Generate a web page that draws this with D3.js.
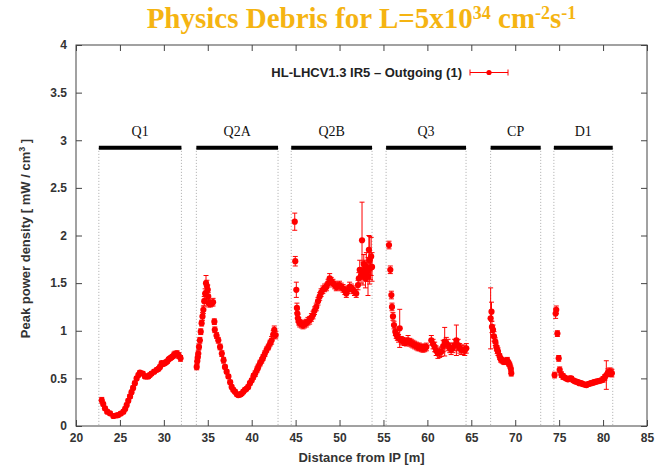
<!DOCTYPE html>
<html>
<head>
<meta charset="utf-8">
<script src="https://cdn.jsdelivr.net/npm/d3@7"></script>
<style>
  body { margin: 0; background: #fff; }
  svg { display: block; }
  .tick text { font-family: 'Liberation Sans', Arial, sans-serif; font-weight: bold; font-size: 12px; fill: #333; }
</style>
</head>
<body>
<div id="chart"></div>
<script>
// tick labels
const xTickValues = [20, 25, 30, 35, 40, 45, 50, 55, 60, 65, 70, 75, 80, 85];
const yTickValues = [0, 0.5, 1, 1.5, 2, 2.5, 3, 3.5, 4];

// magnets: name, start / end [m]
const magnetNames = ['Q1', 'Q2A', 'Q2B', 'Q3', 'CP', 'D1'];
const magnetStart = [22.6, 33.7, 44.5, 55.3, 67.2, 74.4];
const magnetEnd = [32.0, 43.0, 53.7, 64.4, 72.9, 81.1];
const magnetLevel = 2.92;

// [distance m, peak power density mW/cm3, error]
const q1Points = [
  [22.93, 0.27, 0.03], [23.10, 0.23, 0.02], [23.30, 0.186, 0.02], [23.55, 0.15, 0.02],
  [23.87, 0.133, 0.02], [24.25, 0.105, 0.02], [24.55, 0.11, 0.02], [24.80, 0.115, 0.02],
  [25.10, 0.13, 0.02], [25.40, 0.15, 0.02], [25.60, 0.18, 0.02], [25.77, 0.22, 0.02],
  [25.95, 0.265, 0.02], [26.15, 0.31, 0.02], [26.32, 0.355, 0.02], [26.50, 0.40, 0.02],
  [26.70, 0.45, 0.02], [26.90, 0.50, 0.02], [27.10, 0.535, 0.02], [27.28, 0.56, 0.02],
  [27.60, 0.55, 0.02], [27.85, 0.52, 0.02], [28.05, 0.52, 0.02], [28.23, 0.52, 0.02],
  [28.40, 0.535, 0.02], [28.60, 0.55, 0.02], [28.90, 0.57, 0.02], [29.20, 0.59, 0.02],
  [29.40, 0.60, 0.02], [29.56, 0.62, 0.02], [29.75, 0.66, 0.02], [29.90, 0.65, 0.02],
  [30.10, 0.66, 0.02], [30.25, 0.67, 0.02], [30.40, 0.68, 0.02], [30.55, 0.70, 0.02],
  [30.70, 0.71, 0.02], [30.85, 0.72, 0.02], [31.00, 0.73, 0.02], [31.15, 0.745, 0.03],
  [31.27, 0.755, 0.03], [31.50, 0.76, 0.03], [31.70, 0.74, 0.03], [31.90, 0.71, 0.03]
];
const q2aPoints = [
  [33.74, 0.62, 0.03], [33.80, 0.68, 0.03], [33.86, 0.72, 0.03], [33.92, 0.76, 0.03],
  [34.00, 0.83, 0.03], [34.10, 0.90, 0.03], [34.20, 0.99, 0.03], [34.30, 1.08, 0.03],
  [34.40, 1.15, 0.04], [34.50, 1.22, 0.04], [34.60, 1.31, 0.05], [34.70, 1.39, 0.05],
  [34.80, 1.50, 0.08], [34.90, 1.47, 0.06], [35.00, 1.43, 0.05], [35.05, 1.36, 0.04],
  [35.10, 1.29, 0.04], [35.30, 1.28, 0.03], [35.45, 1.29, 0.03], [35.60, 1.30, 0.04],
  [35.75, 1.095, 0.03], [35.80, 1.01, 0.03], [36.00, 0.95, 0.03], [36.20, 0.90, 0.03],
  [36.40, 0.83, 0.03], [36.60, 0.76, 0.03], [36.80, 0.69, 0.03], [36.96, 0.62, 0.02],
  [37.15, 0.57, 0.02], [37.35, 0.52, 0.02], [37.55, 0.46, 0.02], [37.72, 0.41, 0.02],
  [37.90, 0.38, 0.02], [38.10, 0.36, 0.02], [38.30, 0.335, 0.02], [38.47, 0.325, 0.02],
  [38.70, 0.33, 0.02], [38.86, 0.34, 0.02], [39.05, 0.36, 0.02], [39.24, 0.38, 0.02],
  [39.40, 0.39, 0.02], [39.60, 0.41, 0.02], [39.80, 0.45, 0.02], [40.00, 0.48, 0.02],
  [40.20, 0.52, 0.03], [40.40, 0.55, 0.03], [40.60, 0.59, 0.03], [40.75, 0.62, 0.03],
  [40.95, 0.66, 0.03], [41.14, 0.69, 0.03], [41.30, 0.72, 0.03], [41.50, 0.76, 0.03],
  [41.70, 0.80, 0.03], [41.90, 0.83, 0.03], [42.10, 0.87, 0.03], [42.27, 0.90, 0.04],
  [42.45, 0.96, 0.04], [42.57, 1.01, 0.04], [42.73, 0.955, 0.04]
];
const q2bPoints = [
  [44.90, 2.145, 0.09], [44.96, 1.73, 0.05], [45.08, 1.43, 0.08], [45.15, 1.24, 0.05],
  [45.20, 1.18, 0.04], [45.26, 1.13, 0.04], [45.36, 1.10, 0.04], [45.46, 1.08, 0.04],
  [45.65, 1.07, 0.04], [45.84, 1.06, 0.04],
  [46.02, 1.07, 0.04], [46.22, 1.08, 0.04], [46.40, 1.10, 0.04], [46.60, 1.11, 0.04],
  [46.80, 1.14, 0.04], [46.98, 1.165, 0.04], [47.15, 1.21, 0.04], [47.35, 1.25, 0.04],
  [47.55, 1.31, 0.04], [47.74, 1.36, 0.04], [47.90, 1.40, 0.04], [48.10, 1.43, 0.04],
  [48.30, 1.45, 0.04], [48.50, 1.46, 0.04], [48.70, 1.50, 0.04], [48.88, 1.55, 0.05],
  [49.05, 1.52, 0.04], [49.25, 1.50, 0.04], [49.45, 1.48, 0.04], [49.63, 1.46, 0.04],
  [49.80, 1.47, 0.04], [50.00, 1.48, 0.04], [50.20, 1.46, 0.04], [50.40, 1.445, 0.04],
  [50.60, 1.42, 0.04], [50.77, 1.39, 0.04], [50.95, 1.43, 0.04], [51.15, 1.46, 0.05],
  [51.35, 1.45, 0.04], [51.53, 1.43, 0.04], [51.70, 1.41, 0.04], [51.90, 1.39, 0.04],
  [52.10, 1.48, 0.05], [52.20, 1.55, 0.06], [52.30, 1.64, 0.10], [52.45, 1.58, 0.08],
  [52.56, 1.95, 0.40], [52.67, 1.60, 0.12], [52.76, 1.70, 0.10], [52.86, 1.64, 0.10],
  [52.95, 1.55, 0.10], [53.05, 1.67, 0.15], [53.15, 1.62, 0.10], [53.24, 1.57, 0.20],
  [53.34, 1.85, 0.15], [53.43, 1.74, 0.25], [53.52, 1.66, 0.12], [53.60, 1.78, 0.20],
  [53.70, 1.67, 0.15]
];
const q3Points = [
  [55.63, 1.90, 0.04], [55.78, 1.64, 0.04], [55.90, 1.375, 0.04], [55.97, 1.25, 0.04],
  [56.08, 1.15, 0.04], [56.20, 1.06, 0.04], [56.35, 0.99, 0.04], [56.45, 0.96, 0.04],
  [56.58, 0.94, 0.04], [56.72, 0.92, 0.04], [56.85, 1.025, 0.20], [57.03, 0.90, 0.04],
  [57.20, 0.89, 0.04], [57.40, 0.885, 0.04], [57.60, 0.88, 0.04], [57.80, 0.90, 0.05],
  [58.00, 0.88, 0.04], [58.17, 0.87, 0.04], [58.35, 0.86, 0.04], [58.55, 0.85, 0.04],
  [58.75, 0.84, 0.04], [58.93, 0.83, 0.04], [59.10, 0.83, 0.04], [59.30, 0.82, 0.04],
  [59.50, 0.815, 0.04], [59.70, 0.82, 0.04], [59.88, 0.83, 0.04],
  [60.45, 0.90, 0.05], [60.65, 0.86, 0.05], [60.83, 0.83, 0.05], [61.00, 0.79, 0.05],
  [61.20, 0.76, 0.05], [61.40, 0.77, 0.05], [61.58, 0.78, 0.05], [61.80, 0.84, 0.06],
  [61.97, 0.885, 0.15], [62.15, 0.87, 0.06], [62.35, 0.85, 0.06], [62.55, 0.82, 0.05],
  [62.70, 0.80, 0.05], [62.90, 0.82, 0.05], [63.10, 0.85, 0.06], [63.30, 0.90, 0.16],
  [63.50, 0.85, 0.06], [63.68, 0.815, 0.05], [63.85, 0.80, 0.05], [64.05, 0.80, 0.05],
  [64.25, 0.79, 0.05], [64.43, 0.815, 0.05]
];
const cpPoints = [
  [67.20, 1.13, 0.32], [67.30, 1.20, 0.10], [67.35, 1.04, 0.06], [67.47, 1.01, 0.05],
  [67.58, 0.94, 0.05], [67.73, 0.885, 0.04], [67.85, 0.83, 0.04], [67.95, 0.80, 0.04],
  [68.04, 0.78, 0.04], [68.23, 0.73, 0.03], [68.35, 0.70, 0.03], [68.50, 0.69, 0.03],
  [68.65, 0.68, 0.03], [68.80, 0.675, 0.03], [68.95, 0.68, 0.03], [69.10, 0.69, 0.03],
  [69.25, 0.66, 0.03], [69.37, 0.64, 0.03], [69.50, 0.60, 0.03], [69.55, 0.555, 0.03]
];
const d1Points = [
  [74.48, 0.535, 0.03], [74.60, 1.18, 0.05], [74.67, 1.22, 0.04], [74.80, 0.97, 0.03],
  [74.95, 0.71, 0.03], [75.06, 0.59, 0.03], [75.25, 0.54, 0.03], [75.44, 0.52, 0.03],
  [75.60, 0.51, 0.02], [75.80, 0.50, 0.02], [76.00, 0.49, 0.02], [76.20, 0.50, 0.02],
  [76.38, 0.50, 0.02], [76.60, 0.48, 0.02], [76.80, 0.47, 0.02], [76.95, 0.465, 0.02],
  [77.15, 0.46, 0.02], [77.30, 0.45, 0.02], [77.50, 0.45, 0.02], [77.70, 0.44, 0.02],
  [77.90, 0.435, 0.02], [78.10, 0.43, 0.02], [78.30, 0.44, 0.02], [78.50, 0.445, 0.02],
  [78.65, 0.45, 0.02], [78.85, 0.455, 0.02], [79.00, 0.46, 0.02], [79.20, 0.465, 0.02],
  [79.40, 0.47, 0.02], [79.60, 0.475, 0.02], [79.80, 0.48, 0.02], [80.00, 0.49, 0.03],
  [80.20, 0.51, 0.03], [80.37, 0.535, 0.15], [80.55, 0.56, 0.04], [80.75, 0.57, 0.04],
  [80.90, 0.56, 0.04], [81.00, 0.555, 0.04]
];

const width = 656;
const height = 467;
const plot = { left: 76, right: 647, top: 45, bottom: 426 };
const red = '#f00';
const sans = "'Liberation Sans', Arial, sans-serif";
const serif = "'Liberation Serif', 'Times New Roman', serif";

const svg = d3.select('#chart')
  .append('svg')
  .attr('width', width)
  .attr('height', height);

const x = d3.scaleLinear().domain([20, 85]).range([plot.left, plot.right]);
const y = d3.scaleLinear().domain([0, 4]).range([plot.bottom, plot.top]);

// 标题
const title = svg.append('text')
  .attr('x', (plot.left + plot.right) / 2)
  .attr('y', 28)
  .attr('text-anchor', 'middle')
  .style('font-family', serif)
  .style('font-weight', 'bold')
  .style('font-size', '29px')
  .style('fill', '#f5b412');
title.append('tspan').text('Physics Debris for L=5x10');
title.append('tspan').attr('dy', -9).style('font-size', '18px').text('34');
title.append('tspan').attr('dy', 9).text(' cm');
title.append('tspan').attr('dy', -9).style('font-size', '18px').text('-2');
title.append('tspan').attr('dy', 9).text('s');
title.append('tspan').attr('dy', -9).style('font-size', '18px').text('-1');

// axes (gnuplot style ticks pointing inward, mirrored)
svg.append('g')
  .attr('transform', `translate(0,${plot.bottom})`)
  .call(d3.axisBottom(x).tickValues(xTickValues).tickSizeInner(-6).tickSizeOuter(0).tickPadding(7).tickFormat(d3.format('d')))
  .call(g => g.select('.domain').remove())
  .call(g => g.selectAll('line').attr('stroke', '#444'));
svg.append('g')
  .attr('transform', `translate(0,${plot.top})`)
  .call(d3.axisTop(x).tickValues(xTickValues).tickSizeInner(-6).tickSizeOuter(0).tickFormat(''))
  .call(g => g.select('.domain').remove())
  .call(g => g.selectAll('line').attr('stroke', '#444'));
svg.append('g')
  .attr('transform', `translate(${plot.left},0)`)
  .call(d3.axisLeft(y).tickValues(yTickValues).tickSizeInner(-6).tickSizeOuter(0).tickPadding(9).tickFormat(d3.format('')))
  .call(g => g.select('.domain').remove())
  .call(g => g.selectAll('line').attr('stroke', '#444'));
svg.append('g')
  .attr('transform', `translate(${plot.right},0)`)
  .call(d3.axisRight(y).tickValues(yTickValues).tickSizeInner(-6).tickSizeOuter(0).tickFormat(''))
  .call(g => g.select('.domain').remove())
  .call(g => g.selectAll('line').attr('stroke', '#444'));

svg.append('rect')
  .attr('x', plot.left)
  .attr('y', plot.top)
  .attr('width', plot.right - plot.left)
  .attr('height', plot.bottom - plot.top)
  .attr('fill', 'none')
  .attr('stroke', '#444')
  .attr('stroke-width', 1);

// axis titles
svg.append('text')
  .attr('x', (plot.left + plot.right) / 2)
  .attr('y', 462)
  .attr('text-anchor', 'middle')
  .style('font-family', sans)
  .style('font-weight', 'bold')
  .style('font-size', '13px')
  .style('fill', '#333')
  .text('Distance from IP [m]');

const yTitle = svg.append('text')
  .attr('transform', `translate(30,${(plot.top + plot.bottom) / 2 + 3}) rotate(-90)`)
  .attr('text-anchor', 'middle')
  .style('font-family', sans)
  .style('font-weight', 'bold')
  .style('font-size', '13px')
  .style('fill', '#333');
yTitle.append('tspan').text('Peak power density [ mW / cm');
yTitle.append('tspan').attr('dy', -5).style('font-size', '9px').text('3');
yTitle.append('tspan').attr('dy', 5).text(' ]');

// magnet layout
const magnets = magnetNames.map((name, i) => ({ name, start: magnetStart[i], end: magnetEnd[i] }));

const magnetG = svg.append('g');
magnets.forEach(m => {
  [m.start, m.end].forEach(pos => {
    magnetG.append('line')
      .attr('x1', x(pos)).attr('x2', x(pos))
      .attr('y1', y(magnetLevel)).attr('y2', plot.bottom)
      .attr('stroke', '#aaa')
      .attr('stroke-width', 1)
      .attr('stroke-dasharray', '1,2');
  });
  magnetG.append('line')
    .attr('x1', x(m.start)).attr('x2', x(m.end))
    .attr('y1', y(magnetLevel)).attr('y2', y(magnetLevel))
    .attr('stroke', '#000')
    .attr('stroke-width', 4);
  magnetG.append('text')
    .attr('x', (x(m.start) + x(m.end)) / 2)
    .attr('y', y(magnetLevel) - 12)
    .attr('text-anchor', 'middle')
    .style('font-family', serif)
    .style('font-size', '14px')
    .style('fill', '#111')
    .text(m.name);
});

// data with error bars
const allPoints = [].concat(q1Points, q2aPoints, q2bPoints, q3Points, cpPoints, d1Points)
  .map(p => ({ dist: p[0], value: p[1], err: p[2] }));

const cap = 2.5;
const dataG = svg.append('g');
const pts = dataG.selectAll('.pt')
  .data(allPoints)
  .join('g')
  .attr('class', 'pt');

pts.append('line')
  .attr('x1', d => x(d.dist)).attr('x2', d => x(d.dist))
  .attr('y1', d => y(d.value - d.err)).attr('y2', d => y(d.value + d.err))
  .attr('stroke', red).attr('stroke-width', 1);
pts.append('line')
  .attr('x1', d => x(d.dist) - cap).attr('x2', d => x(d.dist) + cap)
  .attr('y1', d => y(d.value + d.err)).attr('y2', d => y(d.value + d.err))
  .attr('stroke', red).attr('stroke-width', 1);
pts.append('line')
  .attr('x1', d => x(d.dist) - cap).attr('x2', d => x(d.dist) + cap)
  .attr('y1', d => y(d.value - d.err)).attr('y2', d => y(d.value - d.err))
  .attr('stroke', red).attr('stroke-width', 1);
pts.append('circle')
  .attr('cx', d => x(d.dist))
  .attr('cy', d => y(d.value))
  .attr('r', 3.1)
  .attr('fill', red);

// legend
const legendY = 72.5;
svg.append('text')
  .attr('x', 462)
  .attr('y', legendY + 4.5)
  .attr('text-anchor', 'end')
  .style('font-family', sans)
  .style('font-weight', 'bold')
  .style('font-size', '13px')
  .style('fill', '#222')
  .text('HL-LHCV1.3 IR5 \u2013 Outgoing (1)');
const lg = svg.append('g').attr('stroke', red).attr('stroke-width', 1);
lg.append('line').attr('x1', 470).attr('x2', 508).attr('y1', legendY).attr('y2', legendY);
lg.append('line').attr('x1', 470).attr('x2', 470).attr('y1', legendY - 3).attr('y2', legendY + 3);
lg.append('line').attr('x1', 508).attr('x2', 508).attr('y1', legendY - 3).attr('y2', legendY + 3);
svg.append('circle').attr('cx', 489).attr('cy', legendY).attr('r', 2.6).attr('fill', red);
</script>
</body>
</html>
